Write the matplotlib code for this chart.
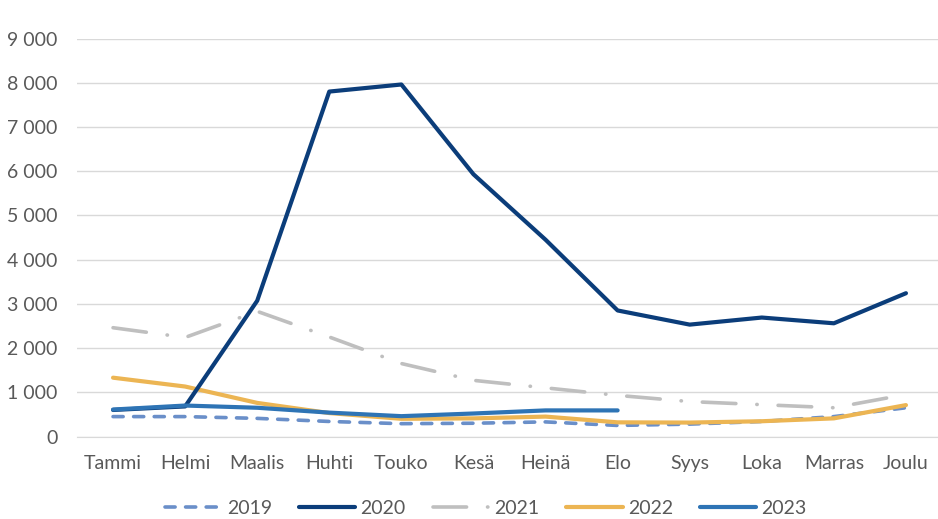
import matplotlib.pyplot as plt
from matplotlib.ticker import FuncFormatter

months = ["Tammi", "Helmi", "Maalis", "Huhti", "Touko", "Kesä",
          "Heinä", "Elo", "Syys", "Loka", "Marras", "Joulu"]

y2019 = [450, 450, 410, 340, 290, 300, 330, 250, 280, 340, 450, 650]
y2020 = [600, 680, 3070, 7800, 7960, 5930, 4450, 2850, 2530, 2690, 2560, 3240]
y2021 = [2460, 2240, 2830, 2250, 1650, 1270, 1100, 930, 790, 720, 650, 950]
y2022 = [1330, 1130, 760, 530, 400, 410, 450, 320, 315, 345, 410, 710]
y2023 = [610, 700, 650, 540, 460, 520, 590, 590]

plt.rcParams["font.family"] = ["Lato", "DejaVu Sans"]

fig = plt.figure(figsize=(9.38, 5.19), dpi=100)
ax = fig.add_axes([77 / 938, 1 - 436.5 / 519, 865 / 938, 398 / 519])

x = list(range(len(months)))

ax.plot(x, y2019, color="#6a8fc9", lw=2.6, dashes=(2.8, 2.9),
        dash_capstyle="round", label="2019", zorder=3)
ax.plot(x, y2020, color="#0b3d7a", lw=3, solid_capstyle="round",
        solid_joinstyle="round", label="2020", zorder=4)
ax.plot(x, y2021, color="#bfbfbf", lw=2.6, dashes=(9.3, 5.8, 0.1, 5.8),
        dash_capstyle="round", label="2021", zorder=2)
ax.plot(x, y2022, color="#ecb553", lw=3, solid_capstyle="round",
        solid_joinstyle="round", label="2022", zorder=3)
ax.plot(x[:len(y2023)], y2023, color="#2e74b5", lw=3, solid_capstyle="round",
        solid_joinstyle="round", label="2023", zorder=5)

ax.set_xlim(-0.5, 11.5)
ax.set_ylim(0, 9000)
ax.set_yticks(range(0, 9001, 1000))
ax.yaxis.set_major_formatter(FuncFormatter(lambda v, p: f"{int(v):,}".replace(",", " ")))
ax.set_xticks(x)
ax.set_xticklabels(months)

ax.grid(axis="y", color="#d9d9d9", lw=1)
ax.set_axisbelow(True)
for s in ["top", "right", "left"]:
    ax.spines[s].set_visible(False)
ax.spines["bottom"].set_color("#d9d9d9")
ax.tick_params(axis="both", length=0, colors="#595959", labelsize=14)
ax.tick_params(axis="y", pad=14)
ax.tick_params(axis="x", pad=13)

fig.legend(loc="center", bbox_to_anchor=(486 / 938, 1 - 508 / 519), ncol=5,
           frameon=False, fontsize=14, labelcolor="#595959",
           handlelength=2.9, columnspacing=1.4, handletextpad=0.25)

fig.savefig("out.png", dpi=100)
